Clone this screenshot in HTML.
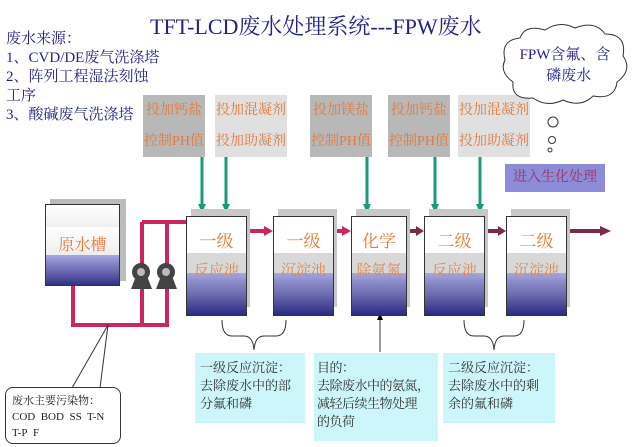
<!DOCTYPE html>
<html><head><meta charset="utf-8"><style>
body{margin:0;width:635px;height:447px;background:#fff;position:relative;overflow:hidden;font-family:"Liberation Serif","Noto Serif CJK SC",serif}
.a{position:absolute}
.chem{position:absolute;top:95px;height:62px;color:#e07a40;font-size:14px;text-align:center;line-height:31px}
.tank{position:absolute;top:216px;height:98px;border:1px solid #333;background:linear-gradient(#fff 0,#fff 36px,#d8d8d8 36px,#d8d8d8 56px,#a8a8e0 56px,#8888c8 66px,#6a6aae 78px,#4a4a98 88px,#2a2a80 98px)}
.sh{position:absolute;top:209px;height:98px;background:#c8c8c8}
.t1{position:absolute;left:0;right:0;top:10px;text-align:center;color:#e07a30;font-size:17px}
.t2{position:absolute;left:0;right:0;top:42px;text-align:center;color:#e08850;font-size:15px}
.cy{position:absolute;background:#ccf6fa;color:#333;font-size:13px;line-height:18px;padding:6px 5px;box-sizing:border-box;white-space:nowrap}
</style></head><body>
<div class="a" style="left:150px;top:10px;font-size:22px;color:#22228a;white-space:nowrap">TFT-LCD废水处理系统---FPW废水</div>
<div class="a" style="left:6px;top:30px;font-size:15px;line-height:19px;color:#22228a">废水来源：<br>1、CVD/DE废气洗涤塔<br>2、阵列工程湿法刻蚀<br>工序<br>3、酸碱废气洗涤塔</div>

<div class="chem" style="left:143px;width:62px;background:#b8b8b8">投加钙盐<br>控制PH值</div>
<div class="chem" style="left:215px;width:72px;background:#e0e0e0">投加混凝剂<br>投加助凝剂</div>
<div class="chem" style="left:310px;width:62px;background:#b8b8b8">投加镁盐<br>控制PH值</div>
<div class="chem" style="left:388px;width:62px;background:#b8b8b8">投加钙盐<br>控制PH值</div>
<div class="chem" style="left:458px;width:72px;background:#e0e0e0">投加混凝剂<br>投加助凝剂</div>

<svg class="a" style="left:0;top:0" width="635" height="447">
<g stroke="#1a9a7a" stroke-width="3" fill="#fff">
<line x1="202" y1="157" x2="202" y2="206"/><line x1="226" y1="157" x2="226" y2="206"/>
<line x1="367" y1="157" x2="367" y2="206"/><line x1="435" y1="157" x2="435" y2="206"/><line x1="480" y1="157" x2="480" y2="206"/>
</g>
<g fill="#1a9a7a"><polygon points="198,204 206,204 202,213"/><polygon points="222,204 230,204 226,213"/><polygon points="363,204 371,204 367,213"/><polygon points="431,204 439,204 435,213"/><polygon points="476,204 484,204 480,213"/></g>
<path d="M505,60 q-5,-20 15,-22 q5,-14 25,-8 q15,-10 30,-2 q20,-8 30,6 q22,0 18,22 q10,14 -6,26 q-2,18 -24,14 q-12,12 -30,4 q-16,8 -30,-2 q-22,2 -20,-16 q-14,-10 -8,-22z" fill="#fff" stroke="#333" stroke-width="1"/>
<circle cx="553" cy="122" r="5" fill="#fff" stroke="#333"/><circle cx="552" cy="140" r="3.5" fill="#fff" stroke="#333"/><circle cx="550" cy="150" r="2" fill="#fff" stroke="#333"/>
<g stroke="#c8285a" stroke-width="4" fill="none"><polyline points="73,286 73,325 167,325 167,222 186,222"/><line x1="142" y1="325" x2="142" y2="222"/><line x1="142" y1="222" x2="167" y2="222"/></g>
<g fill="#444"><circle cx="141" cy="272" r="9"/><polygon points="131,289 152,289 147,276 136,276"/><circle cx="166" cy="272" r="9"/><polygon points="156,289 177,289 172,276 161,276"/></g>
<g fill="#bbb"><circle cx="141" cy="272" r="4"/><circle cx="166" cy="272" r="4"/></g>
<g stroke-width="4"><line x1="246" y1="231" x2="266" y2="231" stroke="#c8285a"/><line x1="333" y1="231" x2="344" y2="231" stroke="#c8285a"/><line x1="406" y1="231" x2="418" y2="231" stroke="#7a2a4a"/><line x1="484" y1="231" x2="500" y2="231" stroke="#7a2a4a"/><line x1="566" y1="231" x2="602" y2="231" stroke="#7a2a4a"/></g>
<g><polygon points="264,226 273,231 264,236" fill="#c8285a"/><polygon points="342,226 351,231 342,236" fill="#c8285a"/><polygon points="416,226 424,231 416,236" fill="#7a2a4a"/><polygon points="498,226 506,231 498,236" fill="#7a2a4a"/><polygon points="600,226 611,231 600,236" fill="#7a2a4a"/></g>
<g stroke="#333" fill="none" stroke-width="1">
<path d="M222,320 q0,16 10,16 h12 q9,0 10,14 q1,-14 10,-14 h12 q10,0 10,-16"/>
<path d="M464,320 q0,16 10,16 h10 q9,0 10,14 q1,-14 10,-14 h10 q10,0 10,-16"/>
<line x1="380" y1="352" x2="380" y2="318"/>
<line x1="108" y1="325" x2="72" y2="388"/><line x1="108" y1="325" x2="100" y2="388"/>
</g>
<polygon points="377,320 383,320 380,313" fill="#000"/>
</svg>

<div class="a" style="left:505px;top:45px;width:120px;text-align:center;font-size:15px;line-height:21px;color:#22228a">FPW含氟、含<br>&nbsp;&nbsp;磷废水</div>
<div class="a" style="left:505px;top:164px;width:100px;height:28px;background:#8c8cd8;color:#a03060;font-size:14px;line-height:28px;text-align:center">进入生化处理</div>

<div class="a" style="left:50px;top:199px;width:76px;height:82px;background:#bbb"></div>
<div class="a" style="left:45px;top:204px;width:75px;height:82px;border:1px solid #333;box-sizing:border-box;background:linear-gradient(#fff 0,#f0f0f0 22px,#fff 22px,#eee 50px,#a8a8e0 50px,#8888c8 58px,#6a6aae 66px,#4a4a98 74px,#2a2a80 82px)"></div>
<div class="a" style="left:45px;top:232px;width:75px;text-align:center;color:#e07a40;font-size:16px">原水槽</div>

<div class="sh" style="left:191px;width:59px"></div><div class="tank" style="left:186px;width:59px"><div class="t1">一级</div><div class="t2">反应池</div></div>
<div class="sh" style="left:278px;width:59px"></div><div class="tank" style="left:273px;width:59px"><div class="t1">一级</div><div class="t2">沉淀池</div></div>
<div class="sh" style="left:356px;width:54px"></div><div class="tank" style="left:351px;width:54px"><div class="t1">化学</div><div class="t2">除氨氮</div></div>
<div class="sh" style="left:429px;width:59px"></div><div class="tank" style="left:424px;width:59px"><div class="t1">二级</div><div class="t2">反应池</div></div>
<div class="sh" style="left:511px;width:59px"></div><div class="tank" style="left:506px;width:59px"><div class="t1">二级</div><div class="t2">沉淀池</div></div>

<div class="cy" style="left:195px;top:353px;width:110px;height:70px">一级反应沉淀：<br>去除废水中的部<br>分氟和磷</div>
<div class="cy" style="left:314px;top:353px;width:124px;height:88px;padding:6px 3px;letter-spacing:-0.5px">目的：<br>去除废水中的氨氮，<br>减轻后续生物处理<br>的负荷</div>
<div class="cy" style="left:443px;top:353px;width:112px;height:70px">二级反应沉淀：<br>去除废水中的剩<br>余的氟和磷</div>

<div class="a" style="left:5px;top:387px;width:116px;height:57px;border:1px solid #333;border-radius:8px;box-sizing:border-box;background:#fff;font-size:11px;line-height:16px;padding:5px 6px;color:#222">废水主要污染物：<br>COD&nbsp; BOD&nbsp; SS&nbsp; T-N<br>T-P&nbsp; F</div>
</body></html>
